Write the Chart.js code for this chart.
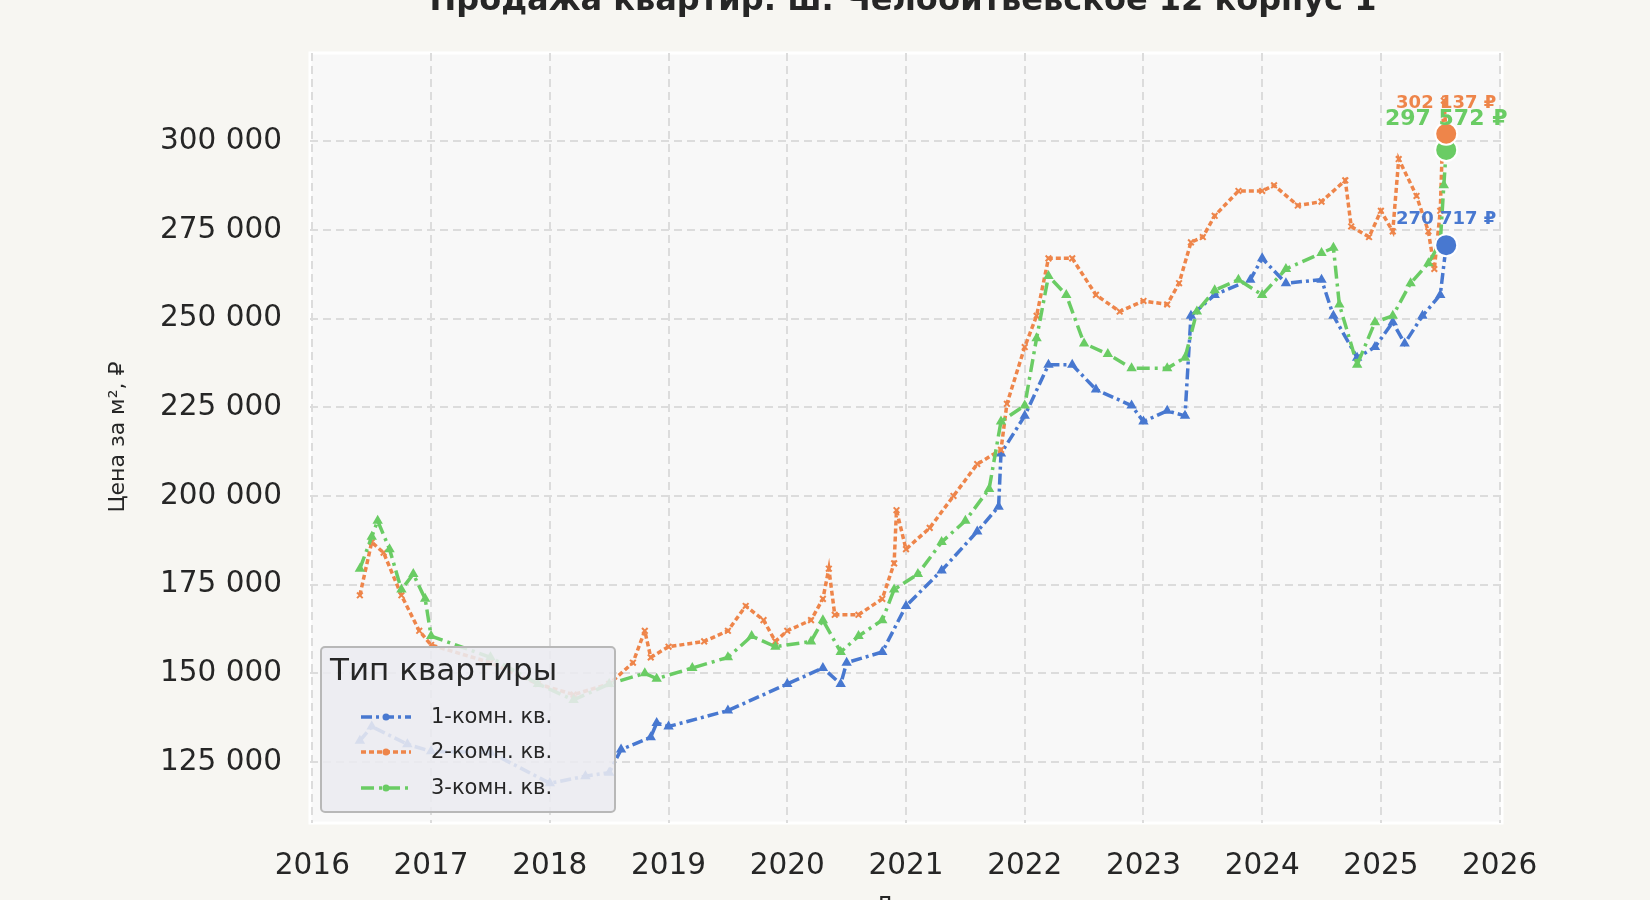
<!DOCTYPE html>
<html><head><meta charset="utf-8">
<script src="https://cdn.jsdelivr.net/npm/chart.js@4/dist/chart.umd.min.js"></script>
<style>body{margin:0;background:#f7f6f2}canvas{display:block}</style>
</head><body><canvas id="c" width="1650" height="900"></canvas>
<script>
const title = "Продажа квартир: ш. Челобитьевское 12 корпус 1";
const seriesNames = ["1-комн. кв.", "2-комн. кв.", "3-комн. кв."];
const xTicks = [2016,2017,2018,2019,2020,2021,2022,2023,2024,2025,2026];
const yTicks = [125000,150000,175000,200000,225000,250000,275000,300000];
const oneX = [2016.4,2016.5,2016.8,2017.0,2017.5,2018.0,2018.3,2018.5,2018.6,2018.85,2018.9,2019.0,2019.5,2020.0,2020.3,2020.45,2020.5,2020.8,2021.0,2021.3,2021.6,2021.78,2021.8,2022.0,2022.2,2022.4,2022.6,2022.9,2023.0,2023.2,2023.35,2023.4,2023.6,2023.9,2024.0,2024.2,2024.5,2024.6,2024.8,2024.95,2025.1,2025.2,2025.35,2025.5,2025.55];
const oneY = [131000,135000,130000,128000,127700,119000,121000,122000,128500,132000,136000,135000,139500,147000,151500,147000,153000,156000,169000,179000,190000,197000,212000,222600,237000,237000,230000,225500,221000,224000,222600,250800,256700,261000,267000,260000,261000,250800,239000,242000,249000,243000,250800,256700,270717];
const twoX = [2016.4,2016.5,2016.6,2016.75,2016.9,2017.0,2017.5,2017.9,2018.2,2018.5,2018.7,2018.8,2018.85,2019.0,2019.3,2019.5,2019.65,2019.8,2019.9,2020.0,2020.2,2020.3,2020.35,2020.4,2020.6,2020.8,2020.9,2020.92,2021.0,2021.2,2021.4,2021.6,2021.8,2021.85,2022.0,2022.1,2022.2,2022.4,2022.6,2022.8,2023.0,2023.2,2023.3,2023.4,2023.5,2023.6,2023.8,2024.0,2024.1,2024.3,2024.5,2024.7,2024.75,2024.9,2025.0,2025.1,2025.15,2025.3,2025.4,2025.45,2025.5,2025.53,2025.55];
const twoY = [172000,187000,184000,172000,162000,158000,153000,147000,144000,147000,153000,162000,154500,157500,159000,162000,169000,165000,159000,162000,165000,171000,179500,166500,166500,171000,181000,196000,185000,191000,200000,209000,213000,226000,242000,250800,267000,267000,256700,252000,255000,254000,260000,271500,273000,279000,286000,286000,287600,281900,283000,289000,276000,273000,280400,274600,295000,284600,274600,264000,280400,311500,302137];
const threeX = [2016.4,2016.5,2016.55,2016.65,2016.75,2016.85,2016.95,2017.0,2017.5,2017.9,2018.2,2018.5,2018.8,2018.9,2019.2,2019.5,2019.7,2019.9,2020.2,2020.3,2020.45,2020.6,2020.8,2020.9,2021.1,2021.3,2021.5,2021.7,2021.8,2022.0,2022.1,2022.2,2022.35,2022.5,2022.7,2022.9,2023.2,2023.35,2023.45,2023.6,2023.8,2024.0,2024.2,2024.5,2024.6,2024.65,2024.8,2024.95,2025.1,2025.25,2025.4,2025.5,2025.53,2025.55];
const threeY = [179500,188500,193000,185000,173600,178000,171000,160500,154500,147000,142500,147000,150000,148500,151500,154500,160500,157500,159000,165000,156000,160500,165000,173600,178000,187000,193000,202000,221000,225500,244500,262000,256700,243000,240000,236000,236000,239000,252000,258000,261000,256700,264000,268500,270000,254000,237000,249000,250800,260000,265600,271500,287600,297572];
const lastLabels = ["270 717 ₽","302 137 ₽","297 572 ₽"];
const colors = ["#4878d0","#ee854a","#6acc64"];

const mk = (xs,ys)=>xs.map((x,i)=>({x,y:ys[i]}));
const fmt = v => String(v).replace(/\B(?=(\d{3})+(?!\d))/g,"\u00a0");
const data = [mk(oneX,oneY),mk(twoX,twoY),mk(threeX,threeY)];
const dashes = [[11,4,3,4],[5,3],[13,5,3,5]];
const pstyles = ['triangle','crossRot','triangle'];
const ds = data.map((d,i)=>({label:seriesNames[i],data:d,borderColor:colors[i],backgroundColor:colors[i],borderWidth:3.5,borderDash:dashes[i],pointStyle:pstyles[i],pointRadius:4,pointBorderWidth:2,tension:0,order:i===1?2:(i===0?3:1)}));
data.forEach((d,i)=>ds.push({label:'end'+i,data:[d[d.length-1]],showLine:false,pointRadius:11,pointBorderColor:'#fff',pointBorderWidth:2,backgroundColor:colors[i],borderColor:'#fff',order:0}));

const deco = {id:'deco',
 beforeDraw(ch){const {ctx,chartArea:a}=ch;ctx.save();ctx.fillStyle='#f7f6f2';ctx.fillRect(0,0,ch.width,ch.height);ctx.fillStyle='#f8f8f8';ctx.fillRect(a.left,a.top,a.right-a.left,a.bottom-a.top);ctx.strokeStyle='#ffffff';ctx.lineWidth=3;ctx.strokeRect(a.left,a.top,a.right-a.left,a.bottom-a.top);ctx.restore();},
 afterDraw(ch){const {ctx}=ch;ctx.save();
  ctx.fillStyle='#262626';ctx.textAlign='center';ctx.textBaseline='middle';
  ctx.font='bold 32px "DejaVu Sans"';ctx.fillText(title,903,2);
  ctx.font='23px "DejaVu Sans"';ctx.fillText('Дата',905,907);
  ctx.translate(118,437);ctx.rotate(-Math.PI/2);ctx.font='22px "DejaVu Sans"';ctx.fillText('Цена за м², ₽',0,0);ctx.restore();
  ctx.save();ctx.textAlign='center';ctx.textBaseline='middle';
  const xs=ch.scales.x;
  const pos=[[0,219,'bold 18px "DejaVu Sans"'],[1,103,'bold 18px "DejaVu Sans"'],[2,119,'bold 22px "DejaVu Sans"']];
  pos.forEach(([i,y,f])=>{const d=data[i][data[i].length-1];ctx.font=f;ctx.fillStyle=colors[i];ctx.fillText(lastLabels[i],xs.getPixelForValue(d.x),y);});
  ctx.restore();
  ctx.save();ctx.fillStyle='rgba(234,234,240,0.88)';ctx.strokeStyle='#b8b8b8';ctx.lineWidth=2;
  ctx.beginPath();ctx.roundRect(321,647,294,165,4);ctx.fill();ctx.stroke();
  ctx.fillStyle='#262626';ctx.textAlign='left';ctx.textBaseline='middle';
  ctx.font='31px "DejaVu Sans"';ctx.fillText('Тип квартиры',330,672);
  ctx.font='21px "DejaVu Sans"';
  [717,752,788].forEach((y,i)=>{ctx.strokeStyle=colors[i];ctx.lineWidth=3.5;ctx.setLineDash(dashes[i]);ctx.beginPath();ctx.moveTo(361,y);ctx.lineTo(411,y);ctx.stroke();ctx.setLineDash([]);
   ctx.fillStyle=colors[i];ctx.beginPath();ctx.arc(386,y,3.5,0,7);ctx.fill();ctx.fillStyle='#262626';ctx.fillText(seriesNames[i],431,y+1);});
  ctx.restore();}
};

new Chart(document.getElementById('c'),{type:'line',data:{datasets:ds},plugins:[deco],
 options:{responsive:false,animation:false,layout:{padding:{left:0,right:148,top:53,bottom:0}},
  plugins:{legend:{display:false},title:{display:false},tooltip:{enabled:false}},
  scales:{
   x:{type:'linear',min:2015.98,max:2026.02,afterBuildTicks:s=>{s.ticks=xTicks.map(v=>({value:v}));},
      afterFit:s=>{s.height=77;},
      grid:{color:'#dcdcdc',lineWidth:2,drawTicks:false},border:{display:false,dash:[8,5]},
      ticks:{padding:26,color:'#262626',font:{size:29.5,family:'DejaVu Sans'},callback:v=>String(v)}},
   y:{min:107800,max:324900,afterBuildTicks:s=>{s.ticks=yTicks.map(v=>({value:v}));},
      afterFit:s=>{s.width=310;},
      grid:{color:'#dcdcdc',lineWidth:2,drawTicks:false},border:{display:false,dash:[8,5]},
      ticks:{padding:28,color:'#262626',font:{size:29.5,family:'DejaVu Sans'},callback:v=>fmt(v)}}
  }}});
</script></body></html>
